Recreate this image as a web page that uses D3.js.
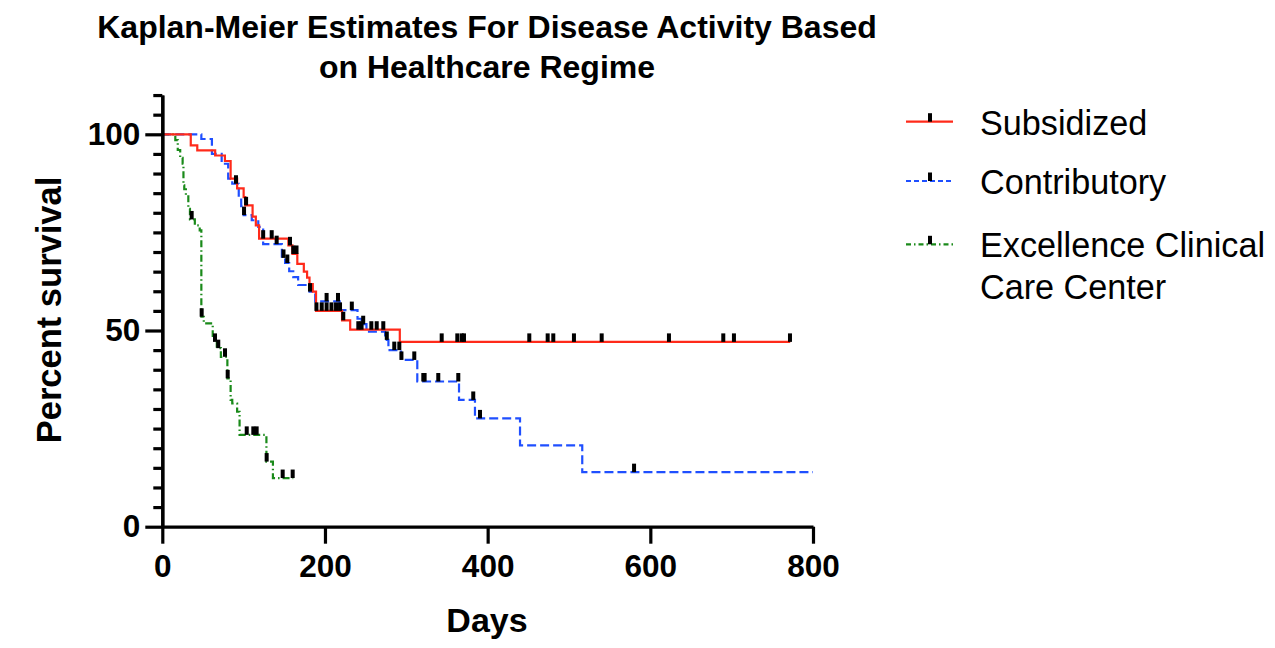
<!DOCTYPE html>
<html>
<head>
<meta charset="utf-8">
<script src="https://cdn.jsdelivr.net/npm/d3@7"></script>
<style>
  html, body { margin: 0; padding: 0; background: #fff; }
  svg { display: block; }
  text { font-family: "Liberation Sans", Arial, Helvetica, sans-serif; fill: #000; }
</style>
</head>
<body>
<svg id="chart" width="1275" height="648"></svg>
<script>
// ---------- DATA ----------
const titleLines = ["Kaplan-Meier Estimates For Disease Activity Based", "on Healthcare Regime"];
const xLabel = "Days";
const yLabel = "Percent survival";
const xTicks = [0, 200, 400, 600, 800];
const yMajorTicks = [0, 50, 100];
const yMinorTicks = [5, 10, 15, 20, 25, 30, 35, 40, 45, 55, 60, 65, 70, 75, 80, 85, 90, 95, 105, 110];

const seriesNames = ["Subsidized", "Contributory", "Excellence Clinical Care Center"];

const subsidizedDays = [0, 35, 43, 65, 77, 84, 92, 100, 102, 111, 115, 119, 155, 160, 166, 174, 178, 181, 185, 189, 221, 231, 292, 772];
const subsidizedSurv = [100, 97.2, 95.9, 94.6, 93.2, 88.7, 86.2, 84.0, 81.9, 79.0, 76.8, 73.4, 71.7, 69.5, 67.0, 65.0, 63.5, 61.8, 59.9, 55.0, 52.6, 50.2, 47.1, 47.1];
const subsidizedCensored = [103, 124, 134.5, 157, 161, 165, 189.5, 196, 202, 208, 213.6, 218.5, 222.5, 241, 245, 257, 263.6, 271.7, 343.5, 362.7, 368.1, 370.9, 451.2, 473.8, 480.7, 506.1, 540.2, 622.9, 689.7, 702.8, 771.7];

const contributoryDays = [0, 48, 61, 73, 81, 86, 94, 97, 100, 110, 118, 124, 147, 151, 156, 161, 167, 181, 188, 218, 240, 245, 251, 274, 278, 293.5, 313.5, 364.8, 384.4, 439.8, 516.3, 800];
const contributorySurv = [100, 98.8, 95.0, 92.5, 88.7, 87.4, 84.0, 81.7, 79.4, 78.1, 76.4, 72.0, 68.5, 67.2, 65.1, 63.6, 61.6, 59.9, 57.4, 55.2, 53.0, 51.6, 49.7, 47.6, 45.0, 42.5, 37.0, 32.3, 27.6, 20.7, 13.9, 13.9];
const contributoryCensored = [90.6, 100.5, 140.6, 149, 153.7, 181.6, 202, 216, 233, 247, 276, 285.2, 291.4, 294, 309.8, 320.9, 322.5, 339.3, 363.9, 382.3, 390.6, 580];

const excellenceDays = [0, 16, 19, 22, 25, 26, 27, 29, 32, 34, 40, 46, 48, 51, 62, 64, 67, 72, 80, 84, 86, 92, 95, 128, 136, 161];
const excellenceSurv = [100, 98.5, 96, 94, 92.5, 87, 86, 84.5, 81, 78.3, 76.8, 75.5, 53.5, 51.8, 48.6, 47.1, 45.5, 43.3, 37.8, 32.3, 31.4, 29.3, 23.4, 16.6, 12.4, 12.4];
const excellenceCensored = [36.1, 48.4, 64.8, 68.8, 77.1, 80.4, 103.8, 111.9, 116, 128.3, 148, 160.3];

// ---------- STYLE ----------
const colors = ["#ff2a1a", "#1f4fff", "#1a8a1a"];
const plotDash = [null, "9,4", "7,3,1.5,3"];
const legendDash = [null, "5,3", "5,3,1.5,3"];

const series = [
  { name: seriesNames[0], days: subsidizedDays, surv: subsidizedSurv, cens: subsidizedCensored },
  { name: seriesNames[1], days: contributoryDays, surv: contributorySurv, cens: contributoryCensored },
  { name: seriesNames[2], days: excellenceDays, surv: excellenceSurv, cens: excellenceCensored }
];

const svg = d3.select("#chart");

const x = d3.scaleLinear().domain([0, 800]).range([162.3, 813]);
const y = d3.scaleLinear().domain([0, 110]).range([526.7, 95.06]);

// Title
svg.append("g").selectAll("text").data(titleLines).join("text")
  .attr("x", 487).attr("y", (d, i) => 37.5 + i * 40.5)
  .attr("text-anchor", "middle")
  .style("font-size", "32px").style("font-weight", "bold")
  .text(d => d);

// Curves
const line = d3.line().curve(d3.curveStepAfter).x(d => x(d[0])).y(d => y(d[1]));
const survAt = (s, t) => {
  const i = d3.bisectRight(s.days, t) - 1;
  return s.surv[Math.max(0, i)];
};

const curves = svg.append("g");
[2, 1, 0].forEach(k => {
  const s = series[k];
  const pts = s.days.map((d, i) => [d, s.surv[i]]);
  curves.append("path")
    .attr("d", line(pts))
    .attr("fill", "none")
    .attr("stroke", colors[k])
    .attr("stroke-width", 2.2)
    .attr("stroke-dasharray", plotDash[k]);
});
[2, 1, 0].forEach(k => {
  const s = series[k];
  curves.append("g").selectAll("rect").data(s.cens).join("rect")
    .attr("x", d => x(d) - 2)
    .attr("y", d => y(survAt(s, d)) - 8.5)
    .attr("width", 4)
    .attr("height", 8.5)
    .attr("fill", "#000");
});

// Axes
const yAxisMinor = d3.axisLeft(y).tickValues(yMinorTicks).tickSize(9).tickSizeOuter(0).tickFormat("");
const yAxisMajor = d3.axisLeft(y).tickValues(yMajorTicks).tickSize(17).tickSizeOuter(0).tickPadding(5).tickFormat(d3.format("d"));
const xAxis = d3.axisBottom(x).tickValues(xTicks).tickSize(17).tickSizeOuter(0).tickPadding(11.3).tickFormat(d3.format("d"));

function styleAxis(g) {
  g.select(".domain").attr("stroke", "#000").attr("stroke-width", 3.2);
  g.selectAll(".tick line").attr("stroke", "#000").attr("stroke-width", 3.2);
  g.selectAll(".tick text")
    .style("font-family", "'Liberation Sans', Arial, sans-serif")
    .style("font-size", "31.5px").style("font-weight", "bold").attr("fill", "#000");
}

svg.append("g").attr("transform", `translate(${x(0)},0)`).call(yAxisMinor).call(styleAxis);
svg.append("g").attr("transform", `translate(${x(0)},0)`).call(yAxisMajor).call(styleAxis);
svg.append("g").attr("transform", `translate(0,${y(0)})`).call(xAxis).call(styleAxis);

// Axis titles
svg.append("text")
  .attr("x", 487).attr("y", 632)
  .attr("text-anchor", "middle")
  .style("font-size", "34px").style("font-weight", "bold")
  .text(xLabel);

svg.append("text")
  .attr("transform", "translate(61,310) rotate(-90)")
  .attr("text-anchor", "middle")
  .style("font-size", "34.5px").style("font-weight", "bold")
  .text(yLabel);

// Legend
const legendLineY = [121.7, 181, 244.3];
const legendTextLines = [["Subsidized"], ["Contributory"], ["Excellence Clinical", "Care Center"]];
const legend = svg.append("g");
series.forEach((s, k) => {
  const ly = legendLineY[k];
  legend.append("line")
    .attr("x1", 906).attr("x2", 953).attr("y1", ly).attr("y2", ly)
    .attr("stroke", colors[k]).attr("stroke-width", 2.2)
    .attr("stroke-dasharray", legendDash[k]);
  legend.append("rect")
    .attr("x", 928).attr("y", ly - 8.5).attr("width", 4).attr("height", 8.5).attr("fill", "#000");
  legend.append("g").selectAll("text").data(legendTextLines[k]).join("text")
    .attr("x", 980).attr("y", (d, i) => ly + 13 + i * 41.5)
    .style("font-size", "34.2px")
    .text(d => d);
});
</script>
</body>
</html>
